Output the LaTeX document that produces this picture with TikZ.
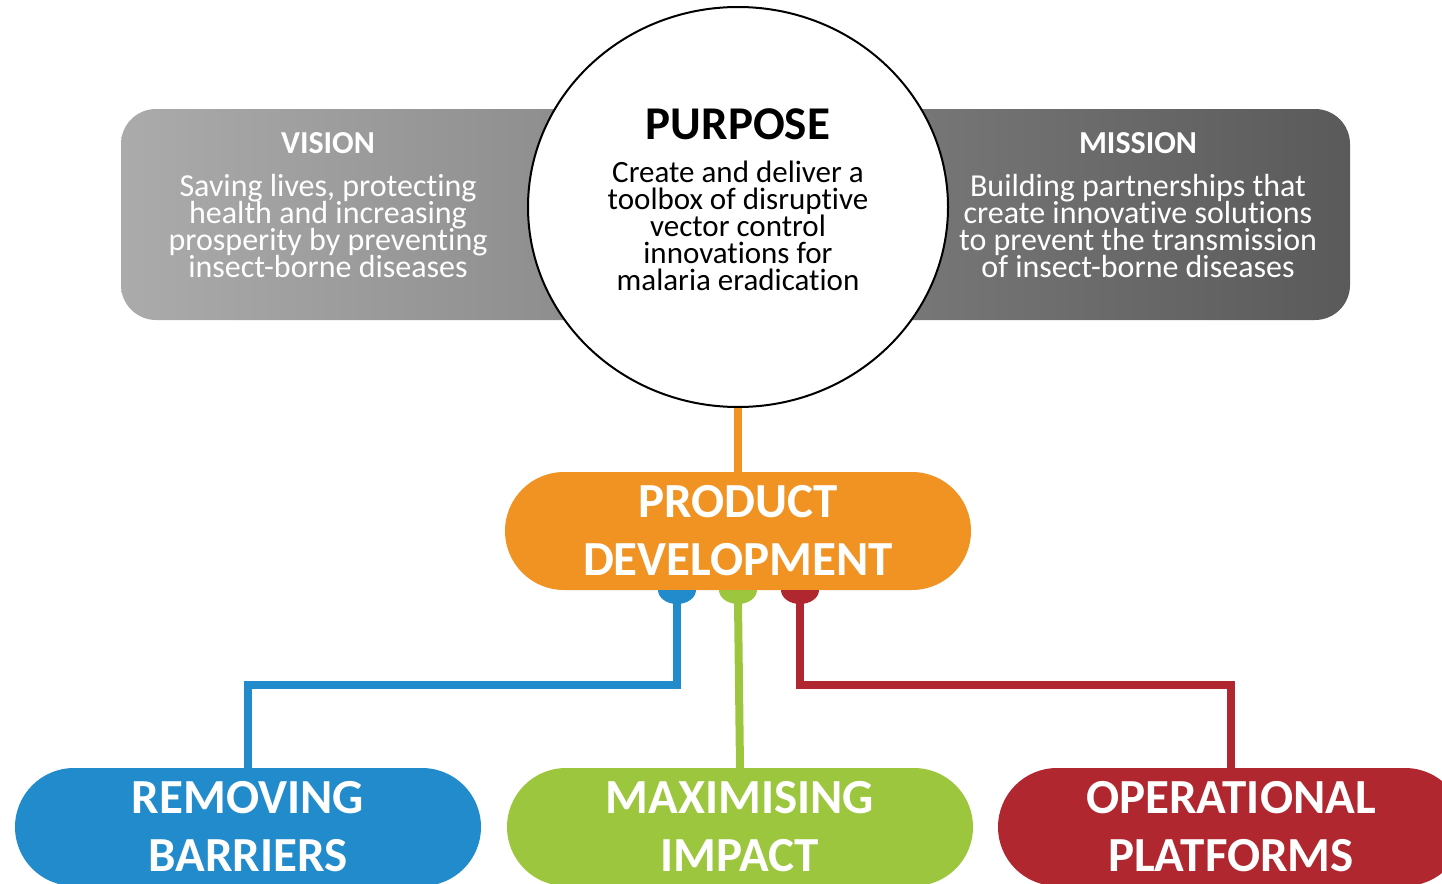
\documentclass[tikz,border=0pt]{standalone}
\usepackage{fontspec}
\setmainfont{Carlito}[Ligatures=NoCommon]
\usepackage{tikz}
\usetikzlibrary{positioning,calc,shapes.geometric}
\definecolor{pdorange}{HTML}{F09322}
\definecolor{pdblue}{HTML}{228BCB}
\definecolor{pdgreen}{HTML}{9DC63F}
\definecolor{pdred}{HTML}{B0272F}
\definecolor{bandlight}{HTML}{ABABAB}
\definecolor{banddark}{HTML}{5A5A5A}
\newcommand{\tightlines}{\lineskiplimit=-20pt\relax}
\tikzstyle{pill}=[rectangle,rounded corners=59pt,minimum width=466pt,minimum height=118pt,inner sep=0pt,text=white,align=center,font=\bfseries\fontsize{49}{58}\selectfont]
\tikzstyle{band}=[rectangle,rounded corners=35pt,minimum width=1229pt,minimum height=211pt,inner sep=0pt,left color=bandlight,right color=banddark,draw=none]
\tikzstyle{head}=[text=white,font=\bfseries\fontsize{32}{32}\selectfont]
\tikzstyle{body}=[text=white,align=center,font=\fontsize{32}{27}\selectfont\tightlines]
\tikzstyle{link}=[line width=8pt]

\begin{document}
\begin{tikzpicture}[x=1pt,y=-1pt]
  \useasboundingbox (0,0) rectangle (1442,883);
  % grey band behind the circle
  \node [band] (band) at (735.5,214.5) {};
  \node [head] (vision) at (328,143) {VISION};
  \node [body] (visiontext) at (328,226) {Saving lives, protecting\\health and increasing\\prosperity by preventing\\insect-borne diseases};
  \node [head] (mission) at (1138,143) {MISSION};
  \node [body] (missiontext) at (1138,226) {Building partnerships that\\create innovative solutions\\to prevent the transmission\\of insect-borne diseases};
  % purpose circle
  \node [draw,ellipse,fill=white,line width=2pt,minimum width=420pt,minimum height=400pt] (purpose) at (738,207) {};
  \node [font=\bfseries\fontsize{47}{47}\selectfont] (purposetitle) at (738,124) {PURPOSE};
  \node [align=center,font=\fontsize{31}{27}\selectfont\tightlines] (purposetext) at (738,226) {Create and deliver a\\toolbox of disruptive\\vector control\\innovations for\\malaria eradication};
  % product development
  \node [pill,fill=pdorange] (product) at (738,531) {PRODUCT\\DEVELOPMENT};
  \draw [link,pdorange] (purpose.south) -- (product.north);
  % bottom row
  \node [pill,fill=pdblue] (removing) at (248,827) {REMOVING\\BARRIERS};
  \node [pill,fill=pdgreen] (impact) at (740,827) {MAXIMISING\\IMPACT};
  \node [pill,fill=pdred] (platforms) at (1231,827) {OPERATIONAL\\PLATFORMS};
  % plugs under the product box
  \fill [pdblue] (658,590) arc [start angle=180,end angle=360,x radius=19pt,y radius=14pt] -- cycle;
  \fill [pdgreen] (719,590) arc [start angle=180,end angle=360,x radius=19pt,y radius=14pt] -- cycle;
  \fill [pdred] (781,590) arc [start angle=180,end angle=360,x radius=19pt,y radius=14pt] -- cycle;
  \coordinate (plugB) at (677,602);
  \coordinate (plugG) at (738,602);
  \coordinate (plugR) at (800,602);
  \coordinate (elbowB) at (677,685);
  \coordinate (elbowR) at (800,685);
  \draw [link,pdblue] (plugB) -- (elbowB) -| (removing.north);
  \draw [link,pdgreen] (plugG) -- (impact.north);
  \draw [link,pdred] (plugR) -- (elbowR) -| (platforms.north);
\end{tikzpicture}
\end{document}
